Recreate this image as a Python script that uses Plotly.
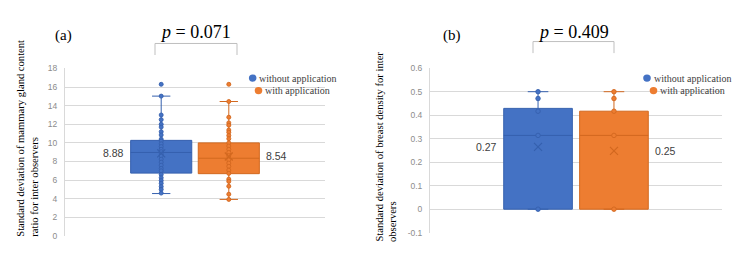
import plotly.graph_objects as go

W, H = 750, 263

# ---------------- data ----------------
series_names = ["without application", "with application"]
mean_labels_a = ["8.88", "8.54"]
mean_labels_b = ["0.27", "0.25"]

# panel (a): mammary gland content ratio SD
a_q1 = [6.75, 6.69]
a_median = [8.97, 8.35]
a_q3 = [10.27, 10.0]
a_lowerfence = [4.55, 3.92]
a_upperfence = [15.03, 14.45]
a_mean = [8.88, 8.54]
a_points_without = [16.3, 15.03, 13.0, 12.5, 12.0, 11.7, 11.2, 10.85, 10.4, 10.2,
                    9.9, 9.6, 9.3, 9.05, 8.8, 8.6, 8.25, 7.93, 7.6, 7.25, 7.0,
                    6.6, 6.25, 5.95, 5.65, 5.3, 5.0, 4.6]
a_points_with = [16.3, 14.45, 12.76, 12.15, 11.9, 11.38, 11.14, 10.79, 10.45,
                 10.0, 9.66, 9.31, 8.97, 8.62, 8.17, 7.83, 7.48, 7.07, 6.72,
                 6.1, 5.86, 5.34, 4.48, 3.92]

# panel (b): breast density SD
b_q1 = [0.0, 0.0]
b_median = [0.314, 0.314]
b_q3 = [0.429, 0.417]
b_lowerfence = [0.0, 0.0]
b_upperfence = [0.5, 0.5]
b_mean = [0.265, 0.248]
b_points_without = [0.5, 0.471, 0.417, 0.314, 0.0]
b_points_with = [0.5, 0.471, 0.417, 0.314, 0.0]

a_tickvals = [0, 2, 4, 6, 8, 10, 12, 14, 16, 18]
a_ticktext = ["0", "2", "4", "6", "8", "10", "12", "14", "16", "18"]
b_tickvals = [-0.1, 0, 0.1, 0.2, 0.3, 0.4, 0.5, 0.6]
b_ticktext = ["-0.1", "0", "0.1", "0.2", "0.3", "0.4", "0.5", "0.6"]

# ---------------- style ----------------
BLUE = "#4472C4"
BLUE_D = "#3560AE"
ORANGE = "#ED7D31"
ORANGE_D = "#D2681F"
fills = [BLUE, ORANGE]
darks = [BLUE_D, ORANGE_D]
POS = [-0.13, 0.13]     # box group offsets within the single category
BOXW = 0.235

def px(x):
    return x / W

def py(y):
    return 1 - y / H

fig = go.Figure()

def add_panel(xa, ya, q1, med, q3, lf, uf, mean, pts_list, msize):
    for i in range(2):
        fig.add_trace(go.Box(
            x=[POS[i]], q1=[q1[i]], median=[med[i]], q3=[q3[i]],
            lowerfence=[lf[i]], upperfence=[uf[i]],
            width=BOXW, fillcolor=fills[i],
            line=dict(color=darks[i], width=1), whiskerwidth=0.3,
            boxpoints=False, name=series_names[i], showlegend=False,
            xaxis=xa, yaxis=ya))
    for i in range(2):
        pts = pts_list[i]
        fig.add_trace(go.Scatter(
            x=[POS[i]] * len(pts), y=pts, mode="markers",
            marker=dict(size=msize, color=fills[i], line=dict(color=darks[i], width=0.9)),
            showlegend=False, xaxis=xa, yaxis=ya, hoverinfo="y"))
        fig.add_trace(go.Scatter(
            x=[POS[i]], y=[mean[i]], mode="markers",
            marker=dict(size=8, symbol="x-thin", line=dict(color=darks[i], width=1.2)),
            showlegend=False, xaxis=xa, yaxis=ya, hoverinfo="y"))

add_panel("x", "y", a_q1, a_median, a_q3, a_lowerfence, a_upperfence, a_mean,
          [a_points_without, a_points_with], 4)
add_panel("x2", "y2", b_q1, b_median, b_q3, b_lowerfence, b_upperfence, b_mean,
          [b_points_without, b_points_with], 4.5)

tickfont = dict(family="Liberation Sans", size=8.5, color="#8C8C8C")
common_y = dict(showgrid=True, gridcolor="#D9D9D9", gridwidth=1, zeroline=False,
                showline=True, linecolor="#D9D9D9", linewidth=1, ticks="",
                tickfont=tickfont, ticklabelstandoff=5, tickmode="array")
common_x = dict(range=[-0.5, 0.5], showgrid=False, zeroline=False, showline=False,
                showticklabels=False, ticks="", fixedrange=True)

fig.update_layout(
    width=W, height=H, autosize=False,
    margin=dict(l=0, r=0, t=0, b=0),
    paper_bgcolor="white", plot_bgcolor="white",
    xaxis=dict(domain=[px(65), px(325)], anchor="y", **common_x),
    yaxis=dict(domain=[py(240), py(66)], range=[0, 18], anchor="x",
               tickvals=a_tickvals, ticktext=a_ticktext, **common_y),
    xaxis2=dict(domain=[px(430), px(722)], anchor="y2", **common_x),
    yaxis2=dict(domain=[py(236.7), py(65.7)], range=[-0.1, 0.6], anchor="x2",
                tickvals=b_tickvals, ticktext=b_ticktext, **common_y),
)

ann = []
shapes = []
serif = "Liberation Serif"
# mean labels
lab_font = dict(family="Liberation Sans", size=10.5, color="#404040")
for xr, yr, means, labs in [("x", "y", a_mean, mean_labels_a), ("x2", "y2", b_mean, mean_labels_b)]:
    ann.append(dict(xref=xr, yref=yr, x=POS[0] - BOXW / 2, y=means[0], text=labs[0],
                    xanchor="right", yanchor="middle", xshift=-5, showarrow=False, font=lab_font))
    ann.append(dict(xref=xr, yref=yr, x=POS[1] + BOXW / 2, y=means[1], text=labs[1],
                    xanchor="left", yanchor="middle", xshift=5, showarrow=False, font=lab_font))

# panel letters and p values
for txt, cx in [("(a)", 63.5), ("(b)", 452)]:
    ann.append(dict(xref="paper", yref="paper", x=px(cx), y=py(32), text=txt,
                    xanchor="center", yanchor="middle", showarrow=False,
                    font=dict(family=serif, size=15, color="black")))
for txt, cx in [("<i>p</i> = 0.071", 195), ("<i>p</i> = 0.409", 573)]:
    ann.append(dict(xref="paper", yref="paper", x=px(cx), y=py(28), text=txt,
                    xanchor="center", yanchor="middle", showarrow=False,
                    font=dict(family=serif, size=18, color="black")))

# legends: (dot centre x, text left x, y) per series, per panel
legend_layout = [
    [(252.7, 257, 76), (258.5, 263, 89)],
    [(647, 652, 76), (653.5, 658, 89)],
]
R = 3.8
for panel in legend_layout:
    for j, (dx, tx, yy) in enumerate(panel):
        shapes.append(dict(type="circle", xref="paper", yref="paper",
                           x0=px(dx - R), x1=px(dx + R), y0=py(yy + R), y1=py(yy - R),
                           fillcolor=fills[j], line=dict(width=0)))
        ann.append(dict(xref="paper", yref="paper", x=px(tx), y=py(yy),
                        text=series_names[j], xanchor="left", yanchor="middle",
                        showarrow=False,
                        font=dict(family=serif, size=10, color="#404040")))

# y-axis titles (rotated)
ytitle_font = dict(family=serif, size=10.6, color="black")
for txt, cx, bottom in [("Standard deviation of mammary gland content", 20.5, 243),
                        ("ratio for inter observers", 35, 243),
                        ("Standard deviation of breast density for inter", 380, 248),
                        ("observers", 392, 248)]:
    ann.append(dict(xref="paper", yref="paper", x=px(cx), y=py(bottom), text=txt,
                    textangle=-90, xanchor="center", yanchor="bottom", showarrow=False,
                    font=ytitle_font))

# brackets
for x0, x1, ytop, ybot in [(155, 237, 40, 52), (533, 614, 38, 50)]:
    shapes.append(dict(type="path", xref="paper", yref="paper",
                       path=f"M {px(x0)},{py(ybot)} L {px(x0)},{py(ytop)} L {px(x1)},{py(ytop)} L {px(x1)},{py(ybot)}",
                       line=dict(color="#BFBFBF", width=1)))

fig.update_layout(annotations=ann, shapes=shapes)

fig.write_html("out.html")
